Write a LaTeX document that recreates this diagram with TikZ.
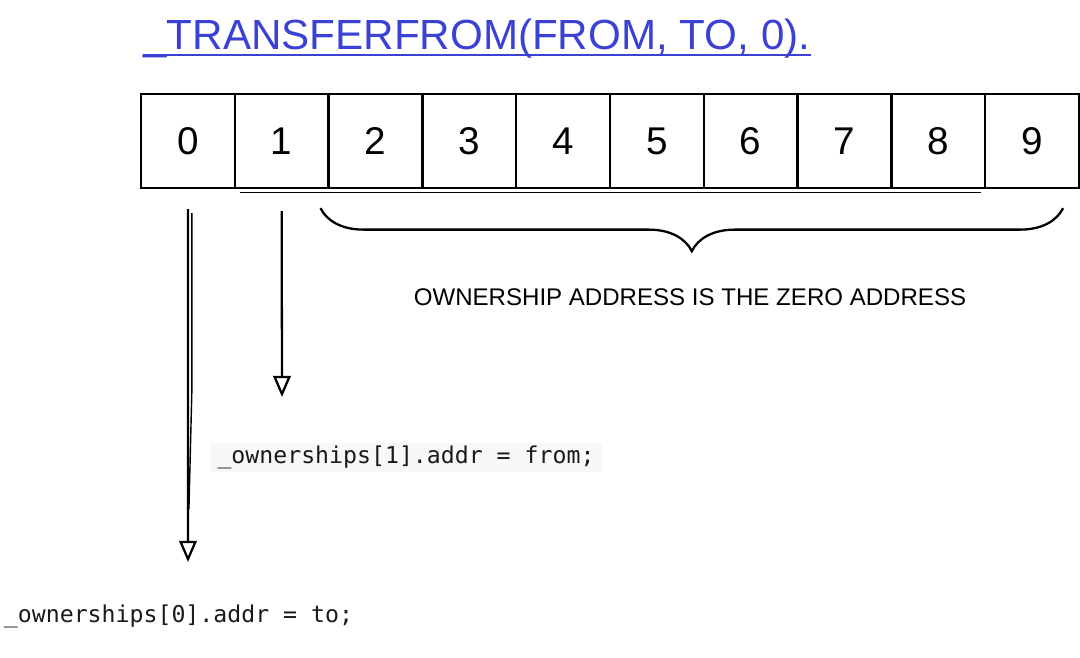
\documentclass[tikz,border=0pt]{standalone}
\usepackage{fontspec}
\setmainfont{Liberation Sans}
\newfontfamily\codefont{DejaVu Sans Mono}
\usetikzlibrary{arrows.meta,decorations.pathreplacing}

\definecolor{titleblue}{HTML}{3B41D4}
\definecolor{codebg}{HTML}{F6F8FA}
\definecolor{codeink}{HTML}{1A1A1A}

\tikzset{
  cell/.style={draw, line width=1.3pt, minimum width=1.876cm, minimum height=1.88cm,
    inner sep=0pt, font=\fontsize{22}{22}\selectfont},
  arr/.style={line width=1.3pt, -{Triangle[open, length=12pt, width=10pt, line width=1.3pt]}},
  code/.style={font=\codefont\fontsize{13.2}{14}\selectfont, text=codeink, inner xsep=0.16cm, inner ysep=0.06cm},
}

\begin{document}
\begin{tikzpicture}[x=0.02cm, y=-0.02cm]
\useasboundingbox (0,0) rectangle (1080,658);

% Title
\node[anchor=base west, inner sep=0pt, text=titleblue, font=\fontsize{24}{24}\selectfont]
  (title) at (143,50) {\_TRANSFERFROM(FROM, TO, 0).};
\draw[titleblue, line width=1pt] (title.base west) ++(0,5) coordinate (ul) -- (ul -| title.base east);

% Cells
\foreach \i in {0,...,9}
  \node[cell] (c\i) at ({141+93.8*\i+46.9},141) {\i};
\draw[line width=0.6pt] ([shift={(100,3)}]c0.south west) -- ([shift={(-5,3)}]c8.south east);

% Brace over cells 2..9
\draw[line width=1.3pt, decorate, decoration={brace, amplitude=0.86cm}]
  ([shift={(-17,19)}]c9.south east) -- ([shift={(-7,19)}]c2.south west);
\node[font=\fontsize{13.7}{14}\selectfont] (zero) at (690,297)
  {OWNERSHIP ADDRESS IS THE ZERO ADDRESS};

% Code
\node[code, fill=codebg, anchor=base] (code1) at (406,464) {\_ownerships[1].addr = from;};
\node[code, anchor=base] (code0) at (178.5,623) {\_ownerships[0].addr = to;};

% Arrows
\coordinate (tip0) at (188,562);
\coordinate (tip1) at (282,397);
\draw[arr] ([yshift=-0.4cm]c0.south) -- (tip0);
\draw[line width=0.8pt] ([shift={(4,24)}]c0.south) -- ([shift={(4,200)}]c0.south) -- ([shift={(1,320)}]c0.south);
\draw[arr] ([yshift=-0.44cm]c1.south) -- (tip1);

\end{tikzpicture}
\end{document}
